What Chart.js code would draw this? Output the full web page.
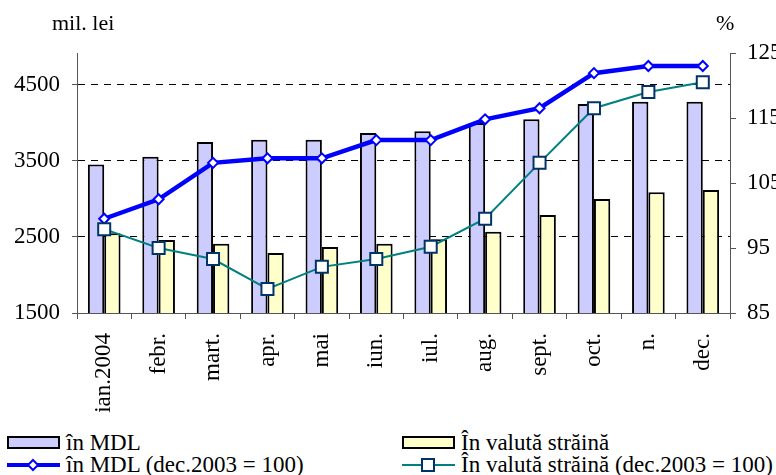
<!DOCTYPE html>
<html>
<head>
<meta charset="utf-8">
<script src="https://cdn.jsdelivr.net/npm/chart.js@4/dist/chart.umd.min.js"></script>
<style>
    html, body { margin: 0; padding: 0; background: #fff; }
    body { width: 776px; height: 475px; overflow: hidden; position: relative; font-family: 'Liberation Serif', serif; color: #000; }
    #wrap { position: absolute; left: 0; top: 0; width: 800px; height: 425px; }
    .title { position: absolute; font-size: 22px; line-height: 1; }
    .legend { position: absolute; font-size: 23px; line-height: 1; white-space: nowrap; display: flex; align-items: center; }
    .legend svg { margin-right: 6px; }
</style>
</head>
<body>
<div id="wrap"><canvas id="chart" width="800" height="425"></canvas></div>
<div class="title" style="left:52px; top:12px;">mil. lei</div>
<div class="title" style="left:716px; top:12px;">%</div>

<div class="legend" style="left:7px; top:431px;">
    <svg width="53" height="13"><rect x="1" y="1" width="51" height="11" fill="#ccccff" stroke="#000" stroke-width="2"/></svg>în MDL
</div>
<div class="legend" style="left:402px; top:431px;">
    <svg width="53" height="13"><rect x="1" y="1" width="51" height="11" fill="#ffffcc" stroke="#000" stroke-width="2"/></svg>În valută străină
</div>
<div class="legend" style="left:7px; top:453px;">
    <svg width="53" height="16"><line x1="0" y1="8" x2="53" y2="8" stroke="#0000ff" stroke-width="4"/><polygon points="26,3 31,8 26,13 21,8" fill="#fff" stroke="#0000ff" stroke-width="2"/></svg>în MDL (dec.2003 = 100)
</div>
<div class="legend" style="left:402px; top:453px;">
    <svg width="53" height="16"><line x1="0" y1="8" x2="53" y2="8" stroke="#008080" stroke-width="2"/><rect x="20" y="2" width="12" height="12" fill="#fff" stroke="#003366" stroke-width="2"/></svg>În valută străină (dec.2003 = 100)
</div>

<script>
    // Data
    const months = ['ian.2004', 'febr.', 'mart.', 'apr.', 'mai', 'iun.', 'iul.', 'aug.', 'sept.', 'oct.', 'n.', 'dec.'];
    const depMDL = [3455, 3555, 3750, 3780, 3780, 3870, 3890, 4000, 4050, 4250, 4280, 4280];
    const depValuta = [2550, 2460, 2410, 2290, 2370, 2410, 2470, 2570, 2790, 3000, 3090, 3120];
    const idxMDL = [99.5, 102.5, 108.1, 108.8, 108.8, 111.6, 111.6, 114.8, 116.5, 121.9, 123.0, 123.0];
    const idxValuta = [97.9, 95.0, 93.3, 88.7, 92.1, 93.3, 95.2, 99.5, 108.1, 116.5, 119.0, 120.5];
    const leftTicks = [1500, 2500, 3500, 4500];

    const axisFont = { family: "'Liberation Serif', serif", size: 23 };

    const ctx = document.getElementById('chart');
    const chart = new Chart(ctx, {
        type: 'bar',
        data: {
            labels: months,
            datasets: [
                {
                    type: 'line',
                    label: 'În valută străină (dec.2003 = 100)',
                    data: idxValuta,
                    yAxisID: 'y1',
                    borderColor: '#008080',
                    borderWidth: 2,
                    pointStyle: 'rect',
                    pointRadius: 8.5,
                    pointBackgroundColor: '#ffffff',
                    pointBorderColor: '#003366',
                    pointBorderWidth: 2,
                    tension: 0,
                    order: 0
                },
                {
                    type: 'line',
                    label: 'în MDL (dec.2003 = 100)',
                    data: idxMDL,
                    yAxisID: 'y1',
                    borderColor: '#0000ff',
                    borderWidth: 4.5,
                    pointStyle: 'rectRot',
                    pointRadius: 5,
                    pointBackgroundColor: '#ffffff',
                    pointBorderColor: '#0000ff',
                    pointBorderWidth: 2,
                    tension: 0,
                    order: 1
                },
                {
                    label: 'în MDL',
                    data: depMDL,
                    yAxisID: 'y',
                    backgroundColor: '#ccccff',
                    borderColor: '#000000',
                    borderWidth: 2,
                    barPercentage: 1,
                    categoryPercentage: 0.6,
                    order: 2
                },
                {
                    label: 'În valută străină',
                    data: depValuta,
                    yAxisID: 'y',
                    backgroundColor: '#ffffcc',
                    borderColor: '#000000',
                    borderWidth: 2,
                    barPercentage: 1,
                    categoryPercentage: 0.6,
                    order: 2
                }
            ]
        },
        options: {
            responsive: false,
            animation: false,
            layout: {
                padding: { top: 53, left: 0, right: 0, bottom: 0 }
            },
            plugins: {
                legend: { display: false },
                tooltip: { enabled: false }
            },
            scales: {
                x: {
                    afterFit: s => { s.height = 112; },
                    grid: {
                        display: true,
                        drawOnChartArea: false,
                        offset: true,
                        tickLength: 6,
                        tickColor: '#555'
                    },
                    border: { color: '#555', width: 1 },
                    ticks: {
                        color: '#000',
                        font: axisFont,
                        maxRotation: 90,
                        minRotation: 90,
                        autoSkip: false,
                        padding: 14
                    }
                },
                y: {
                    position: 'left',
                    min: 1500,
                    max: 4921,
                    afterFit: s => { s.width = 77; },
                    afterBuildTicks: s => { s.ticks = leftTicks.map(v => ({ value: v })); },
                    grid: {
                        color: c => (c.tick && c.tick.value === 1500) ? 'rgba(0,0,0,0)' : '#000',
                        lineWidth: 1,
                        tickLength: 5,
                        tickColor: '#555',
                        tickBorderDash: []
                    },
                    border: { color: '#555', width: 1, dash: [7, 6] },
                    ticks: {
                        color: '#000',
                        font: axisFont,
                        padding: 12,
                        callback: v => String(v)
                    }
                },
                y1: {
                    position: 'right',
                    min: 85,
                    max: 125,
                    afterFit: s => { s.width = 70; },
                    grid: {
                        drawOnChartArea: false,
                        tickLength: 6,
                        tickColor: '#555'
                    },
                    border: { color: '#555', width: 1 },
                    ticks: {
                        stepSize: 10,
                        color: '#000',
                        font: axisFont,
                        padding: 11
                    }
                }
            }
        }
    });
</script>
</body>
</html>
